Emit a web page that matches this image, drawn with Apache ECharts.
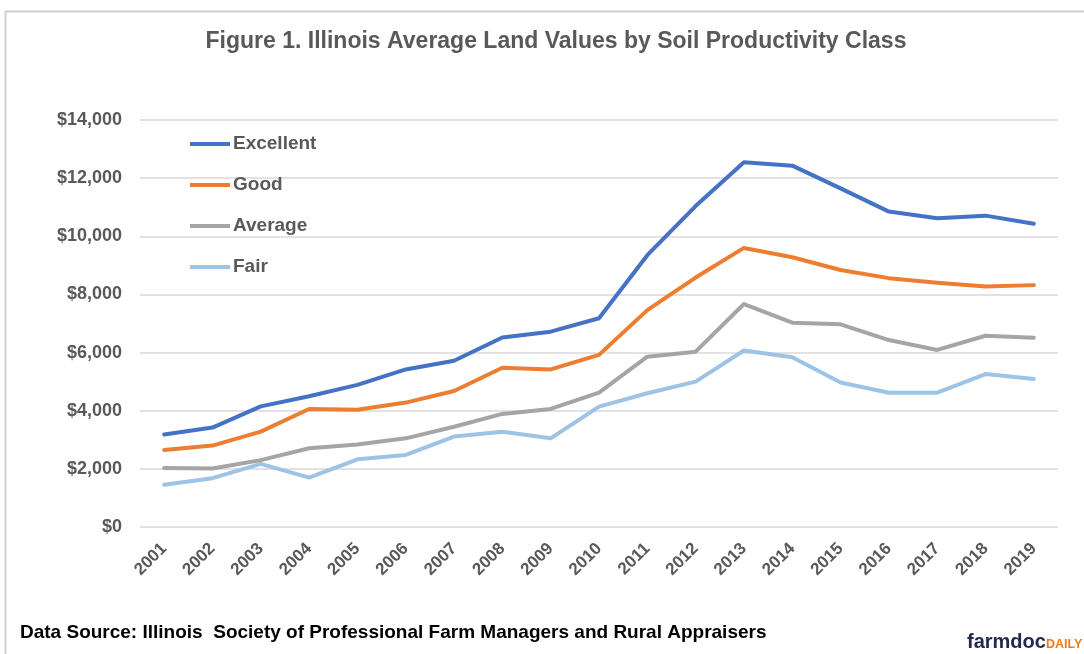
<!DOCTYPE html>
<html>
<head>
<meta charset="utf-8">
<script src="https://cdn.jsdelivr.net/npm/echarts@6/dist/echarts.min.js"></script>
<style>
html,body{margin:0;padding:0;background:#fff;}
#c{width:1084px;height:654px;}
</style>
</head>
<body>
<div id="c"></div>
<script>
const years = ['2001','2002','2003','2004','2005','2006','2007','2008','2009','2010','2011','2012','2013','2014','2015','2016','2017','2018','2019'];
const excellent = [3180,3420,4150,4500,4890,5420,5720,6520,6720,7180,9350,11040,12550,12430,11650,10850,10620,10710,10430];
const good = [2650,2800,3280,4060,4030,4280,4680,5480,5420,5920,7460,8580,9600,9280,8840,8560,8400,8270,8320];
const average = [2030,2010,2300,2710,2840,3050,3450,3890,4060,4620,5860,6030,7670,7030,6970,6430,6090,6580,6510];
const fair = [1450,1680,2170,1700,2330,2480,3110,3280,3050,4140,4600,5000,6070,5840,4970,4620,4620,5260,5090];
const yTicks = [0,2000,4000,6000,8000,10000,12000,14000];

const seriesNames = ['Excellent','Good','Average','Fair'];
const seriesData = [excellent, good, average, fair];
const colors = ['#4472C4','#ED7D31','#A5A5A5','#9DC3E6'];

const chart = echarts.init(document.getElementById('c'), null, {renderer:'canvas'});
const font = '"Liberation Sans", Arial, sans-serif';
chart.setOption({
  animation:false,
  backgroundColor:'#fff',
  title:{
    text:'Figure 1. Illinois Average Land Values by Soil Productivity Class',
    left:551, textAlign:'center', top:25,
    textStyle:{fontFamily:font, fontWeight:'bold', fontSize:23, color:'#595959'}
  },
  legend:{
    orient:'vertical', left:190, top:134, padding:0, itemWidth:40, itemHeight:4, itemGap:21,
    icon:'rect',
    data:seriesNames,
    textStyle:{fontFamily:font, fontWeight:'bold', fontSize:19, color:'#595959', lineHeight:20, padding:[0,0,0,-2]}
  },
  grid:{left:140, right:26, top:120, bottom:127},
  xAxis:{
    type:'category', data:years, boundaryGap:true,
    axisLine:{show:false}, axisTick:{show:false},
    axisLabel:{rotate:45, fontFamily:font, fontWeight:'bold', fontSize:17, color:'#595959', margin:19, interval:0}
  },
  yAxis:{
    type:'value', min:yTicks[0], max:yTicks[yTicks.length-1], interval:2000,
    axisLine:{show:false}, axisTick:{show:false},
    splitLine:{lineStyle:{color:'#D9D9D9', width:1.5}},
    axisLabel:{fontFamily:font, fontWeight:'bold', fontSize:18, color:'#595959', margin:18,
      formatter:v=>'$'+v.toLocaleString('en-US')}
  },
  series: seriesNames.map((n,i)=>({
    name:n, type:'line', data:seriesData[i], symbol:'none', z:10-i,
    lineStyle:{color:colors[i], width:4, cap:'round', join:'round'},
    itemStyle:{color:colors[i]}
  })),
  graphic:[
    {type:'rect', left:3, top:9, shape:{width:1090, height:660}, style:{fill:'none', stroke:'#D0D0D0', lineWidth:2}, silent:true},
    {type:'text', left:20, top:623, style:{text:'Data Source: Illinois  Society of Professional Farm Managers and Rural Appraisers', font:'bold 19px '+font, fill:'#000'}},
    {type:'text', left:967, top:632, style:{
      rich:{a:{font:'bold 20px '+font, fill:'#1F2A4D', verticalAlign:'bottom'}, b:{font:'bold 12.5px '+font, fill:'#F07A1A', verticalAlign:'bottom', padding:[0,0,1,0]}},
      text:'{a|farmdoc}{b|DAILY}'}}
  ]
});
</script>
</body>
</html>
